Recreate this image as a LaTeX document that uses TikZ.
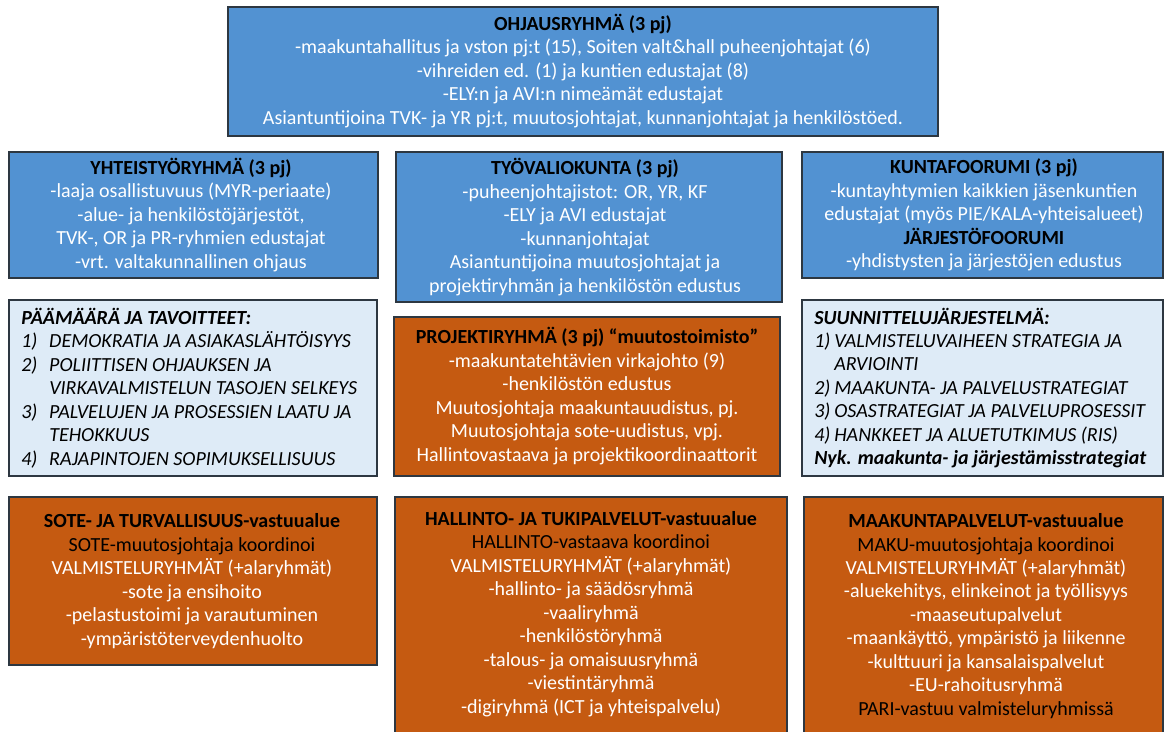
\documentclass[tikz,border=0pt]{standalone}
\usepackage{fontspec}
\setmainfont{Carlito}
\usepackage{tikz}

\newcommand{\otsikko}[1]{{\color{black}\bfseries #1}}
\newcommand{\musta}[1]{{\color{black}#1}}
\newcommand{\nro}[1]{\makebox[1.4em][l]{#1}}
\newcommand{\nrob}[1]{\makebox[1.0em][l]{#1}}

\begin{document}
\begin{tikzpicture}[x=0.75pt,y=0.75pt,yscale=-1,xscale=1,
  bluebox/.style={draw={rgb, 255:red, 45; green, 55; blue, 65 },line width=1.1pt,fill={rgb, 255:red, 82; green, 146; blue, 210 }},
  orangebox/.style={draw={rgb, 255:red, 45; green, 55; blue, 65 },line width=1.1pt,fill={rgb, 255:red, 197; green, 90; blue, 17 }},
  palebox/.style={draw={rgb, 255:red, 45; green, 55; blue, 65 },line width=1.1pt,fill={rgb, 255:red, 222; green, 235; blue, 247 }},
  boxtext/.style={inner sep=0pt,align=center,text=white,font=\fontsize{15}{17.6}\selectfont},
  listtext/.style={inner sep=0pt,align=left,text=black,font=\itshape\fontsize{15}{17.6}\selectfont}]
\useasboundingbox (0,0) rectangle (1169,731);
\fill[white] (0,0) rectangle (1169,731);
%Shape: Rectangle [OHJAUSRYHMÄ]
\draw[bluebox] (228,7) rectangle (938,136);
%Shape: Rectangle [row 2]
\draw[bluebox] (9,152) rectangle (378,278);
\draw[bluebox] (396,152) rectangle (782,302);
\draw[bluebox] (802,152) rectangle (1163,278);
%Shape: Rectangle [row 3]
\draw[palebox] (9,300) rectangle (377,476);
\draw[orangebox] (394,317) rectangle (780,476);
\draw[palebox] (802,300) rectangle (1163,476);
%Shape: Rectangle [row 4]
\draw[orangebox] (9,497) rectangle (377,665);
\draw[orangebox] (395,497) rectangle (787,740);
\draw[orangebox] (804,497) rectangle (1163,740);
% Text Node
\node[boxtext] (ohjaus) at (583,71) {\otsikko{OHJAUSRYHMÄ (3 pj)}\\
-maakuntahallitus ja vston pj:t (15), Soiten valt\&hall puheenjohtajat (6)\\
-vihreiden ed. (1) ja kuntien edustajat (8)\\
-ELY:n ja AVI:n nimeämät edustajat\\
Asiantuntijoina TVK- ja YR pj:t, muutosjohtajat, kunnanjohtajat ja henkilöstöed.};
% Text Node
\node[boxtext] (yhteistyo) at (191,215) {\otsikko{YHTEISTYÖRYHMÄ (3 pj)}\\
-laaja osallistuvuus (MYR-periaate)\\
-alue- ja henkilöstöjärjestöt,\\
TVK-, OR ja PR-ryhmien edustajat\\
-vrt. valtakunnallinen ohjaus};
% Text Node
\node[boxtext] (tyovaliokunta) at (585,227) {\otsikko{TYÖVALIOKUNTA (3 pj)}\\
-puheenjohtajistot: OR, YR, KF\\
-ELY ja AVI edustajat\\
-kunnanjohtajat\\
Asiantuntijoina muutosjohtajat ja\\
projektiryhmän ja henkilöstön edustus};
% Text Node
\node[boxtext] (kuntafoorumi) at (984,215) {\otsikko{KUNTAFOORUMI (3 pj)}\\
-kuntayhtymien kaikkien jäsenkuntien\\
edustajat (myös PIE/KALA-yhteisalueet)\\
\otsikko{JÄRJESTÖFOORUMI}\\
-yhdistysten ja järjestöjen edustus};
% Text Node
\node[listtext,anchor=west] (paamaara) at (21,388) {\textbf{PÄÄMÄÄRÄ JA TAVOITTEET:}\\
\nro{1)}DEMOKRATIA JA ASIAKASLÄHTÖISYYS\\
\nro{2)}POLIITTISEN OHJAUKSEN JA\\
\nro{}VIRKAVALMISTELUN TASOJEN SELKEYS\\
\nro{3)}PALVELUJEN JA PROSESSIEN LAATU JA\\
\nro{}TEHOKKUUS\\
\nro{4)}RAJAPINTOJEN SOPIMUKSELLISUUS};
% Text Node
\node[boxtext] (projekti) at (587,396) {\otsikko{PROJEKTIRYHMÄ (3 pj) “muutostoimisto”}\\
-maakuntatehtävien virkajohto (9)\\
-henkilöstön edustus\\
Muutosjohtaja maakuntauudistus, pj.\\
Muutosjohtaja sote-uudistus, vpj.\\
Hallintovastaava ja projektikoordinaattorit};
% Text Node
\node[listtext,anchor=west] (suunnittelu) at (814,388) {\textbf{SUUNNITTELUJÄRJESTELMÄ:}\\
\nrob{1)}VALMISTELUVAIHEEN STRATEGIA JA\\
\nrob{}ARVIOINTI\\
\nrob{2)}MAAKUNTA- JA PALVELUSTRATEGIAT\\
\nrob{3)}OSASTRATEGIAT JA PALVELUPROSESSIT\\
\nrob{4)}HANKKEET JA ALUETUTKIMUS (RIS)\\
\textbf{Nyk. maakunta- ja järjestämisstrategiat}};
% Text Node
\node[boxtext] (sote) at (192,581) {\otsikko{SOTE- JA TURVALLISUUS-vastuualue}\\
\musta{SOTE-muutosjohtaja koordinoi}\\
VALMISTELURYHMÄT (+alaryhmät)\\
-sote ja ensihoito\\
-pelastustoimi ja varautuminen\\
-ympäristöterveydenhuolto};
% Text Node
\node[boxtext] (hallinto) at (591,614) {\otsikko{HALLINTO- JA TUKIPALVELUT-vastuualue}\\
\musta{HALLINTO-vastaava koordinoi}\\
VALMISTELURYHMÄT (+alaryhmät)\\
-hallinto- ja säädösryhmä\\
-vaaliryhmä\\
-henkilöstöryhmä\\
-talous- ja omaisuusryhmä\\
-viestintäryhmä\\
-digiryhmä (ICT ja yhteispalvelu)};
% Text Node
\node[boxtext] (maakunta) at (986,616) {\otsikko{MAAKUNTAPALVELUT-vastuualue}\\
\musta{MAKU-muutosjohtaja koordinoi}\\
VALMISTELURYHMÄT (+alaryhmät)\\
-aluekehitys, elinkeinot ja työllisyys\\
-maaseutupalvelut\\
-maankäyttö, ympäristö ja liikenne\\
-kulttuuri ja kansalaispalvelut\\
-EU-rahoitusryhmä\\
\musta{PARI-vastuu valmisteluryhmissä}};
\end{tikzpicture}
\end{document}
